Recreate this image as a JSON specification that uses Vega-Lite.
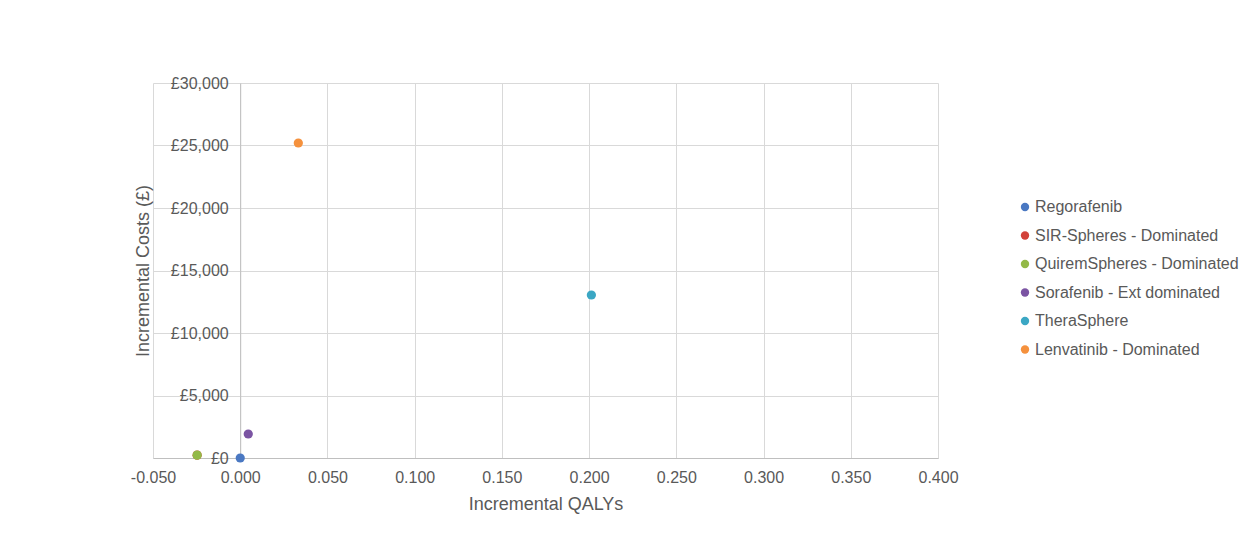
{
  "$schema": "https://vega.github.io/schema/vega-lite/v6.json",
  "width": 785,
  "height": 375,
  "autosize": {"type": "none"},
  "padding": {"left": 153, "top": 83, "right": 320, "bottom": 96},
  "background": "white",
  "config": {
    "font": "Liberation Sans",
    "view": {"stroke": null},
    "axis": {"labelColor": "#595959", "titleColor": "#595959", "labelFontSize": 16, "titleFontSize": 18, "titleFontWeight": "normal", "gridColor": "#D9D9D9", "domainColor": "#BFBFBF", "tickSize": 0}
  },
  "data": {
    "values": [
      {"option": "Regorafenib", "qaly": 0.0, "cost": 0},
      {"option": "SIR-Spheres - Dominated", "qaly": -0.0247, "cost": 230},
      {"option": "QuiremSpheres - Dominated", "qaly": -0.0247, "cost": 230},
      {"option": "Sorafenib - Ext dominated", "qaly": 0.0046, "cost": 1920},
      {"option": "TheraSphere", "qaly": 0.2013, "cost": 13040},
      {"option": "Lenvatinib - Dominated", "qaly": 0.0333, "cost": 25200}
    ]
  },
  "mark": {"type": "point", "filled": true, "opacity": 1, "size": 85},
  "encoding": {
    "x": {
      "field": "qaly", "type": "quantitative",
      "scale": {"domain": [-0.05, 0.4], "nice": false, "zero": false},
      "axis": {"title": "Incremental QALYs", "values": [-0.05, 0, 0.05, 0.1, 0.15, 0.2, 0.25, 0.3, 0.35, 0.4], "labelExpr": "replace(format(datum.value, '.3f'), '\u2212', '-')", "labelPadding": 11, "titlePadding": 10, "labelFlush": false}
    },
    "y": {
      "field": "cost", "type": "quantitative",
      "scale": {"domain": [0, 30000], "nice": false},
      "axis": {"title": "Incremental Costs (£)", "values": [0, 5000, 10000, 15000, 20000, 25000, 30000], "labelExpr": "'£' + format(datum.value, ',')", "offset": -87.2, "labelPadding": 12, "titleX": -88, "labelFlush": false, "domainColor": "#BFBFBF"}
    },
    "color": {
      "field": "option", "type": "nominal",
      "scale": {
        "domain": ["Regorafenib", "SIR-Spheres - Dominated", "QuiremSpheres - Dominated", "Sorafenib - Ext dominated", "TheraSphere", "Lenvatinib - Dominated"],
        "range": ["#4A78C2", "#D2423A", "#93B947", "#7B54A3", "#3BA7C4", "#F5913D"]
      },
      "legend": {"title": null, "orient": "none", "legendX": 864, "legendY": 116, "labelFontSize": 16, "labelColor": "#595959", "symbolSize": 70, "symbolType": "circle", "rowPadding": 12.5, "labelOffset": 2, "symbolOpacity": 1, "labelLimit": 300}
    }
  }
}
